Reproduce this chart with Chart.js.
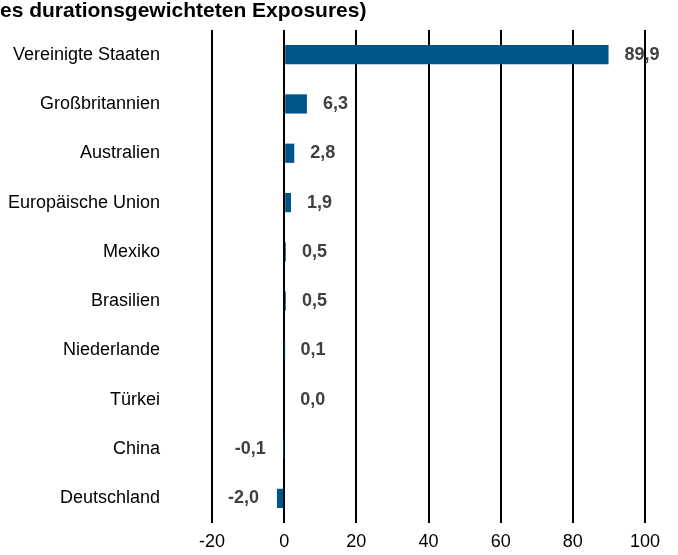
<!DOCTYPE html>
<html>
<head>
<meta charset="utf-8">
<script src="https://cdn.jsdelivr.net/npm/chart.js@4.4.1/dist/chart.umd.min.js"></script>
<style>
  html, body { margin: 0; padding: 0; background: #fff; }
</style>
</head>
<body>
<canvas id="chart" width="678" height="555"></canvas>
<script>
// --- data ---
const countries = ['Vereinigte Staaten', 'Großbritannien', 'Australien', 'Europäische Union', 'Mexiko',
    'Brasilien', 'Niederlande', 'Türkei', 'China', 'Deutschland'];
const exposure = [89.9, 6.3, 2.8, 1.9, 0.5, 0.5, 0.1, 0.0, -0.1, -2.0];
const xTicks = [-20, 0, 20, 40, 60, 80, 100];
const titleText = 'es durationsgewichteten Exposures)';

const FONT = '"Liberation Sans", Arial, sans-serif';
const fmt = v => v.toFixed(1).replace('.', ',');

// title drawn by hand so it can start flush at the left edge
const titlePlugin = {
    id: 'titleText',
    afterDraw(chart) {
        const ctx = chart.ctx;
        ctx.save();
        ctx.font = 'bold 21px ' + FONT;
        ctx.fillStyle = '#000';
        ctx.textBaseline = 'alphabetic';
        ctx.textAlign = 'left';
        ctx.fillText(titleText, 0, 17);
        ctx.restore();
    }
};

// value labels next to the bar ends
const valueLabels = {
    id: 'valueLabels',
    afterDatasetsDraw(chart) {
        const ctx = chart.ctx;
        const meta = chart.getDatasetMeta(0);
        const zero = chart.scales.x.getPixelForValue(0);
        ctx.save();
        ctx.font = 'bold 18px ' + FONT;
        ctx.fillStyle = '#404040';
        ctx.textBaseline = 'middle';
        meta.data.forEach((bar, i) => {
            const v = exposure[i];
            if (v < 0) {
                ctx.textAlign = 'right';
                ctx.fillText(fmt(v), Math.min(bar.x, zero) - 18, bar.y);
            } else {
                ctx.textAlign = 'left';
                ctx.fillText(fmt(v), Math.max(bar.x, zero) + 16, bar.y);
            }
        });
        ctx.restore();
    }
};

new Chart(document.getElementById('chart'), {
    type: 'bar',
    data: {
        labels: countries,
        datasets: [{
            data: exposure,
            backgroundColor: '#00558a',
            borderWidth: 0,
            barPercentage: 0.78,
            categoryPercentage: 0.5
        }]
    },
    options: {
        indexAxis: 'y',
        responsive: false,
        animation: false,
        layout: { padding: { top: 30, right: 33, left: 0, bottom: 0 } },
        plugins: { legend: { display: false }, tooltip: { enabled: false }, title: { display: false } },
        scales: {
            x: {
                min: -20, max: 100,
                afterBuildTicks: s => { s.ticks = xTicks.map(v => ({ value: v })); },
                grid: { color: '#000', lineWidth: 2, drawTicks: false },
                border: { display: false },
                ticks: { color: '#000', padding: 8, font: { family: FONT, size: 18 } },
                afterFit: s => { s.height = 32; s.paddingLeft = 0; s.paddingRight = 0; }
            },
            y: {
                grid: { display: false, drawTicks: false },
                border: { display: false },
                ticks: { color: '#000', padding: 52, font: { family: FONT, size: 18 } },
                afterFit: s => { s.width = 212; s.paddingTop = 0; s.paddingBottom = 0; }
            }
        }
    },
    plugins: [titlePlugin, valueLabels]
});
</script>
</body>
</html>
